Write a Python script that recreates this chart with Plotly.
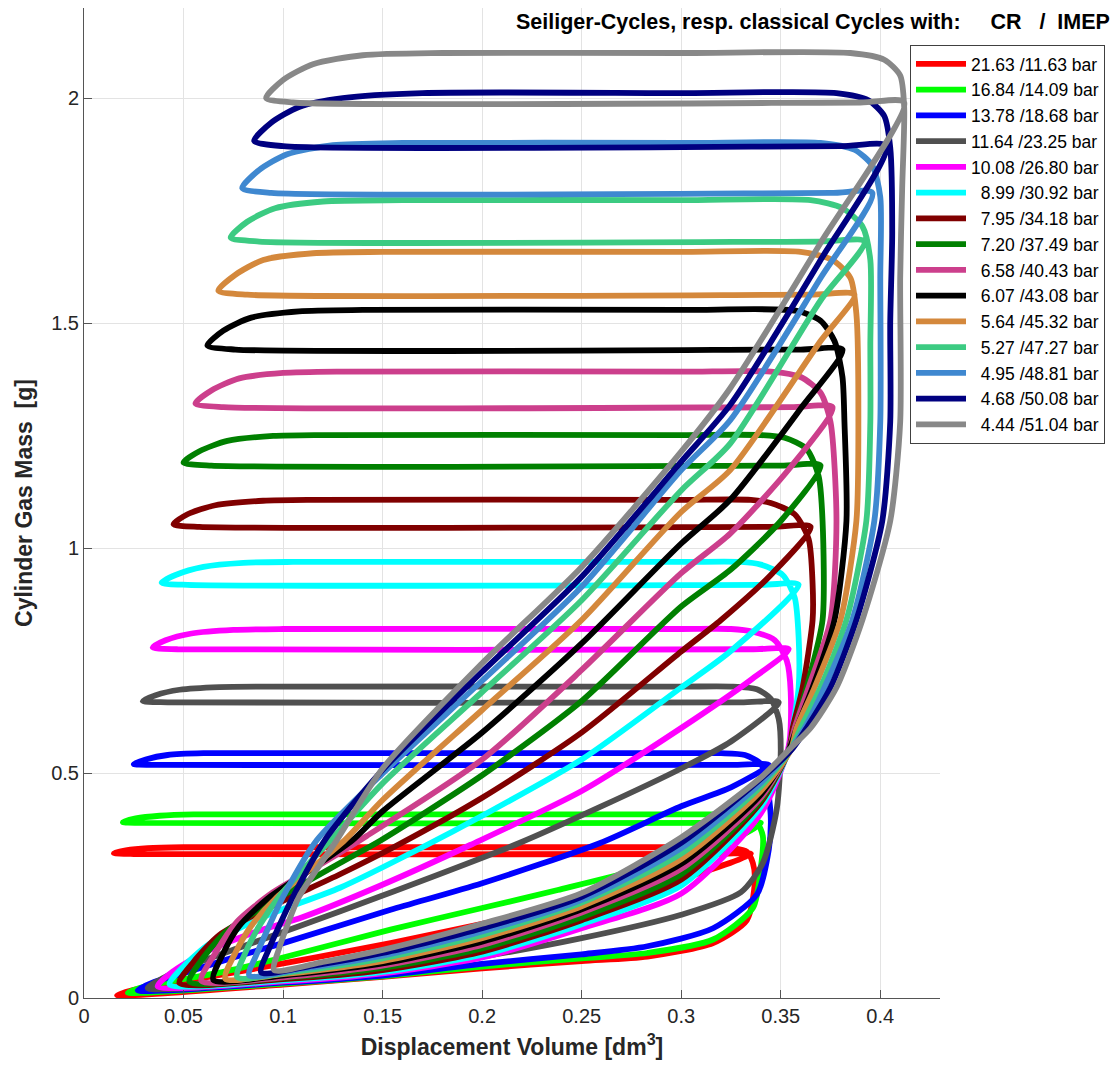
import plotly.graph_objects as go

# ---------------- data ----------------
labels = ["21.63 /11.63 bar", "16.84 /14.09 bar", "13.78 /18.68 bar", "11.64 /23.25 bar",
          "10.08 /26.80 bar", "\u00a0\u00a08.99 /30.92 bar", "\u00a0\u00a07.95 /34.18 bar",
          "\u00a0\u00a07.20 /37.49 bar", "\u00a0\u00a06.58 /40.43 bar", "\u00a0\u00a06.07 /43.08 bar",
          "\u00a0\u00a05.64 /45.32 bar", "\u00a0\u00a05.27 /47.27 bar", "\u00a0\u00a04.95 /48.81 bar",
          "\u00a0\u00a04.68 /50.08 bar", "\u00a0\u00a04.44 /51.04 bar"]
colors = ["#ff0000", "#00ff00", "#0000ff", "#505050", "#ff00ff", "#00ffff", "#800000",
          "#008000", "#cc3f8c", "#000000", "#d4883c", "#3ccb82", "#3f88d0", "#000080", "#888888"]

# each cycle: displacement volume [dm3] and cylinder gas mass [g] along the closed path
v_c01 = [0.0166, 0.025, 0.04, 0.077, 0.154, 0.2, 0.25, 0.3, 0.335, 0.315, 0.025, 0.015, 0.021, 0.032, 0.05, 0.075,
         0.3, 0.315, 0.326, 0.333, 0.336, 0.337, 0.333, 0.316, 0.283, 0.25, 0.2, 0.15, 0.1, 0.0166]
m_c01 = [0.006, 0.018, 0.03, 0.058, 0.122, 0.165, 0.21, 0.265, 0.32, 0.32, 0.32, 0.322, 0.328, 0.333, 0.335, 0.335,
         0.335, 0.335, 0.333, 0.325, 0.3, 0.26, 0.173, 0.122, 0.092, 0.082, 0.066, 0.047, 0.03, 0.006]

v_c02 = [0.022, 0.03, 0.045, 0.07, 0.1, 0.154, 0.2, 0.238, 0.3, 0.325, 0.34, 0.32, 0.03, 0.0195, 0.026, 0.038, 0.055,
         0.08, 0.3, 0.318, 0.33, 0.338, 0.341, 0.34, 0.336, 0.316, 0.283, 0.25, 0.2, 0.15, 0.1, 0.022]
m_c02 = [0.012, 0.025, 0.038, 0.058, 0.09, 0.152, 0.2, 0.24, 0.31, 0.35, 0.389, 0.389, 0.389, 0.391, 0.399, 0.405,
         0.408, 0.408, 0.408, 0.408, 0.404, 0.39, 0.36, 0.29, 0.2, 0.13, 0.1, 0.088, 0.07, 0.048, 0.032, 0.012]

v_c03 = [0.027, 0.035, 0.05, 0.075, 0.1, 0.154, 0.2, 0.259, 0.3, 0.325, 0.344, 0.325, 0.037, 0.025, 0.031, 0.042,
         0.06, 0.085, 0.3, 0.32, 0.332, 0.34, 0.343, 0.345, 0.344, 0.338, 0.316, 0.283, 0.25, 0.2, 0.15, 0.1, 0.027]
m_c03 = [0.017, 0.035, 0.055, 0.09, 0.122, 0.196, 0.255, 0.344, 0.426, 0.468, 0.518, 0.518, 0.518, 0.52, 0.53, 0.54,
         0.544, 0.544, 0.544, 0.544, 0.54, 0.52, 0.48, 0.4, 0.33, 0.23, 0.155, 0.115, 0.097, 0.076, 0.05, 0.034, 0.017]

v_c04 = [0.032, 0.04, 0.055, 0.08, 0.107, 0.149, 0.219, 0.259, 0.3, 0.325, 0.349, 0.33, 0.042, 0.0295, 0.036, 0.048,
         0.068, 0.095, 0.3, 0.325, 0.338, 0.345, 0.349, 0.35, 0.348, 0.341, 0.33, 0.3, 0.25, 0.2, 0.15, 0.1, 0.032]
m_c04 = [0.022, 0.045, 0.075, 0.115, 0.158, 0.226, 0.345, 0.424, 0.51, 0.57, 0.657, 0.657, 0.657, 0.66, 0.673, 0.685,
         0.691, 0.692, 0.692, 0.692, 0.686, 0.665, 0.62, 0.55, 0.42, 0.3, 0.235, 0.185, 0.133, 0.092, 0.06, 0.037, 0.022]

v_c05 = [0.037, 0.045, 0.06, 0.085, 0.11, 0.149, 0.194, 0.25, 0.3, 0.335, 0.354, 0.335, 0.047, 0.0345, 0.041, 0.054,
         0.075, 0.1, 0.3, 0.325, 0.336, 0.347, 0.353, 0.355, 0.354, 0.34, 0.3, 0.25, 0.2, 0.15, 0.1, 0.037]
m_c05 = [0.026, 0.06, 0.1, 0.145, 0.18, 0.25, 0.34, 0.46, 0.6, 0.707, 0.775, 0.775, 0.775, 0.779, 0.795, 0.81,
         0.818, 0.82, 0.82, 0.82, 0.814, 0.795, 0.75, 0.68, 0.56, 0.41, 0.232, 0.155, 0.09, 0.055, 0.037, 0.026]

v_c06 = [0.043, 0.05, 0.063, 0.09, 0.1286, 0.17, 0.2, 0.25, 0.3, 0.3246, 0.359, 0.34, 0.052, 0.039, 0.046, 0.06,
         0.08, 0.105, 0.3, 0.33, 0.34, 0.351, 0.357, 0.359, 0.359, 0.356, 0.354, 0.34, 0.3, 0.25, 0.2, 0.15, 0.1, 0.043]
m_c06 = [0.03, 0.07, 0.12, 0.18, 0.245, 0.335, 0.405, 0.53, 0.69, 0.77, 0.918, 0.918, 0.918, 0.923, 0.94, 0.958,
         0.967, 0.969, 0.969, 0.969, 0.963, 0.94, 0.89, 0.8, 0.69, 0.6, 0.55, 0.425, 0.25, 0.164, 0.096, 0.058, 0.039,
         0.03]

v_c07 = [0.048, 0.055, 0.068, 0.09, 0.1286, 0.1555, 0.2, 0.25, 0.3, 0.32, 0.345, 0.365, 0.345, 0.058, 0.045, 0.052,
         0.066, 0.09, 0.115, 0.3, 0.335, 0.345, 0.357, 0.364, 0.366, 0.366, 0.361, 0.356, 0.354, 0.34, 0.3, 0.25,
         0.2, 0.15, 0.1, 0.048]
m_c07 = [0.033, 0.08, 0.14, 0.195, 0.275, 0.335, 0.445, 0.59, 0.77, 0.84, 0.94, 1.047, 1.047, 1.047, 1.053, 1.075,
         1.095, 1.105, 1.107, 1.107, 1.107, 1.1, 1.075, 1.02, 0.92, 0.84, 0.69, 0.6, 0.55, 0.435, 0.263, 0.173,
         0.103, 0.062, 0.042, 0.033]

v_c08 = [0.053, 0.06, 0.072, 0.095, 0.1286, 0.149, 0.2, 0.25, 0.3, 0.3246, 0.35, 0.37, 0.35, 0.064, 0.05, 0.058,
         0.072, 0.095, 0.12, 0.3, 0.34, 0.352, 0.363, 0.369, 0.371, 0.371, 0.363, 0.357, 0.354, 0.34, 0.3, 0.25,
         0.2, 0.15, 0.1, 0.053]
m_c08 = [0.036, 0.09, 0.15, 0.215, 0.3, 0.35, 0.495, 0.66, 0.87, 0.951, 1.06, 1.183, 1.183, 1.183, 1.19, 1.215,
         1.238, 1.249, 1.251, 1.251, 1.251, 1.245, 1.22, 1.16, 1.06, 0.84, 0.69, 0.6, 0.55, 0.44, 0.275, 0.18,
         0.11, 0.067, 0.045, 0.036]

v_c09 = [0.059, 0.066, 0.077, 0.095, 0.12, 0.142, 0.2, 0.25, 0.3, 0.3246, 0.355, 0.376, 0.355, 0.07, 0.056, 0.064,
         0.078, 0.1, 0.13, 0.3, 0.345, 0.36, 0.37, 0.375, 0.378, 0.375, 0.364, 0.357, 0.354, 0.34, 0.3, 0.25, 0.2,
         0.15, 0.1, 0.059]
m_c09 = [0.038, 0.1, 0.17, 0.235, 0.3, 0.36, 0.53, 0.729, 0.944, 1.032, 1.18, 1.313, 1.313, 1.313, 1.321, 1.35,
         1.377, 1.389, 1.392, 1.392, 1.392, 1.38, 1.345, 1.28, 1.06, 0.84, 0.69, 0.6, 0.55, 0.445, 0.287, 0.19,
         0.118, 0.072, 0.046, 0.038]

v_c10 = [0.065, 0.07, 0.078, 0.092, 0.112, 0.135, 0.15, 0.2, 0.25, 0.3, 0.3246, 0.36, 0.381, 0.36, 0.076, 0.062,
         0.07, 0.084, 0.108, 0.14, 0.3, 0.358, 0.37, 0.377, 0.381, 0.382, 0.383, 0.377, 0.366, 0.358, 0.354, 0.34,
         0.3, 0.25, 0.2, 0.15, 0.1, 0.065]
m_c10 = [0.04, 0.1, 0.16, 0.22, 0.28, 0.351, 0.415, 0.59, 0.788, 1.01, 1.107, 1.31, 1.441, 1.441, 1.441, 1.45,
         1.483, 1.512, 1.526, 1.529, 1.529, 1.527, 1.505, 1.46, 1.38, 1.28, 1.06, 0.84, 0.69, 0.6, 0.55, 0.452,
         0.298, 0.197, 0.125, 0.077, 0.05, 0.04]

v_c11 = [0.071, 0.076, 0.084, 0.096, 0.112, 0.131, 0.15, 0.2, 0.25, 0.3, 0.3246, 0.37, 0.387, 0.365, 0.082, 0.0675,
         0.076, 0.09, 0.115, 0.15, 0.3, 0.36, 0.376, 0.385, 0.388, 0.389, 0.388, 0.38, 0.367, 0.358, 0.355, 0.34,
         0.3, 0.25, 0.2, 0.15, 0.1, 0.071]
m_c11 = [0.043, 0.1, 0.16, 0.22, 0.28, 0.351, 0.44, 0.64, 0.84, 1.08, 1.173, 1.46, 1.563, 1.563, 1.563, 1.572,
         1.607, 1.64, 1.655, 1.658, 1.658, 1.658, 1.64, 1.6, 1.52, 1.28, 1.06, 0.84, 0.69, 0.6, 0.551, 0.46, 0.309,
         0.204, 0.133, 0.082, 0.053, 0.043]

v_c12 = [0.077, 0.081, 0.088, 0.098, 0.11, 0.124, 0.15, 0.2, 0.25, 0.3, 0.3246, 0.37, 0.392, 0.37, 0.088, 0.0737,
         0.082, 0.096, 0.12, 0.16, 0.3, 0.365, 0.381, 0.391, 0.395, 0.395, 0.395, 0.393, 0.383, 0.37, 0.36, 0.355,
         0.34, 0.3, 0.25, 0.2, 0.15, 0.105, 0.077]
m_c12 = [0.046, 0.1, 0.16, 0.225, 0.285, 0.351, 0.477, 0.68, 0.884, 1.128, 1.232, 1.55, 1.681, 1.681, 1.681, 1.69,
         1.725, 1.755, 1.77, 1.773, 1.773, 1.773, 1.755, 1.715, 1.64, 1.45, 1.28, 1.06, 0.84, 0.69, 0.6, 0.552,
         0.47, 0.321, 0.212, 0.14, 0.088, 0.058, 0.046]

v_c13 = [0.083, 0.087, 0.093, 0.1, 0.117, 0.15, 0.2, 0.25, 0.3, 0.3246, 0.37, 0.396, 0.375, 0.094, 0.0795, 0.088,
         0.102, 0.125, 0.16, 0.3, 0.37, 0.387, 0.396, 0.4, 0.4, 0.4, 0.397, 0.386, 0.372, 0.362, 0.355, 0.34, 0.3,
         0.25, 0.2, 0.15, 0.11, 0.083]
m_c13 = [0.05, 0.1, 0.16, 0.225, 0.351, 0.499, 0.705, 0.914, 1.173, 1.284, 1.6, 1.789, 1.789, 1.789, 1.8, 1.84,
         1.875, 1.895, 1.9, 1.9, 1.9, 1.885, 1.85, 1.78, 1.6, 1.28, 1.06, 0.84, 0.69, 0.6, 0.553, 0.478, 0.333,
         0.218, 0.148, 0.094, 0.065, 0.05]

v_c14 = [0.089, 0.093, 0.098, 0.105, 0.121, 0.15, 0.2, 0.25, 0.3, 0.3246, 0.37, 0.403, 0.38, 0.1, 0.0855, 0.094,
         0.108, 0.13, 0.17, 0.3, 0.378, 0.394, 0.402, 0.405, 0.406, 0.405, 0.405, 0.401, 0.388, 0.375, 0.363, 0.356,
         0.34, 0.3, 0.25, 0.2, 0.15, 0.115, 0.089]
m_c14 = [0.057, 0.11, 0.16, 0.225, 0.351, 0.507, 0.725, 0.936, 1.192, 1.318, 1.64, 1.893, 1.893, 1.893, 1.905,
         1.945, 1.98, 2.0, 2.011, 2.011, 2.011, 1.995, 1.96, 1.89, 1.7, 1.5, 1.28, 1.06, 0.84, 0.69, 0.6, 0.555,
         0.487, 0.345, 0.225, 0.155, 0.1, 0.072, 0.057]

v_c15 = [0.0955, 0.098, 0.102, 0.108, 0.127, 0.15, 0.2, 0.25, 0.3, 0.3246, 0.37, 0.412, 0.39, 0.105, 0.0915, 0.1,
         0.115, 0.14, 0.18, 0.3, 0.385, 0.402, 0.41, 0.412, 0.411, 0.41, 0.41, 0.405, 0.391, 0.378, 0.365, 0.356,
         0.34, 0.3, 0.25, 0.2, 0.15, 0.12, 0.0955]
m_c15 = [0.062, 0.11, 0.16, 0.225, 0.351, 0.51, 0.744, 0.958, 1.214, 1.355, 1.678, 1.99, 1.99, 1.99, 2.0, 2.04,
         2.075, 2.095, 2.1, 2.1, 2.1, 2.085, 2.05, 1.98, 1.8, 1.6, 1.28, 1.06, 0.84, 0.69, 0.6, 0.56, 0.49, 0.357,
         0.233, 0.165, 0.107, 0.08, 0.062]

x_ticks = [0, 0.05, 0.1, 0.15, 0.2, 0.25, 0.3, 0.35, 0.4]
x_tick_text = ["0", "0.05", "0.1", "0.15", "0.2", "0.25", "0.3", "0.35", "0.4"]
y_ticks = [0, 0.5, 1, 1.5, 2]
y_tick_text = ["0", "0.5", "1", "1.5", "2"]

cycles_v = [v_c01, v_c02, v_c03, v_c04, v_c05, v_c06, v_c07, v_c08, v_c09, v_c10, v_c11, v_c12, v_c13, v_c14, v_c15]
cycles_m = [m_c01, m_c02, m_c03, m_c04, m_c05, m_c06, m_c07, m_c08, m_c09, m_c10, m_c11, m_c12, m_c13, m_c14, m_c15]

# ---------------- figure ----------------
# The page adds an 8 px body margin, so the figure is 8 px smaller than the window.
FONT = "Liberation Sans, Arial, Helvetica, sans-serif"
NB = "\u00a0"
W, H = 1112, 1070
L, R, T, B = 76, 180, 0, 80
PW, PH = W - L - R, H - T - B


def px_x(page_x):
    return (page_x - 8 - L) / PW


def px_y(page_y):
    return (H - B - (page_y - 8)) / PH


fig = go.Figure()
for vv, mm, lab, col in zip(cycles_v, cycles_m, labels, colors):
    fig.add_trace(go.Scatter(x=vv, y=mm, mode="lines", name=lab,
                             line=dict(color=col, width=5.8, shape="spline", smoothing=0.7)))

title_txt = ("<b>Seiliger-Cycles, resp. classical Cycles with:" + NB * 5 + "CR" + NB * 3 + "/"
             + NB * 2 + "IMEP</b>")
fig.update_layout(
    width=W, height=H,
    margin=dict(l=L, r=R, t=T, b=B, autoexpand=False),
    paper_bgcolor="white", plot_bgcolor="white",
    font=dict(family=FONT, size=20, color="#262626"),
    showlegend=True,
    legend=dict(x=px_x(910), y=px_y(45), xanchor="left", yanchor="top",
                bgcolor="white", bordercolor="#404040", borderwidth=1,
                font=dict(family=FONT, size=17.5, color="black"),
                itemwidth=50, tracegroupgap=0),
    annotations=[dict(text=title_txt,
                      xref="paper", yref="paper", x=px_x(1112), y=px_y(22),
                      xanchor="right", yanchor="middle", showarrow=False,
                      font=dict(family=FONT, size=21.5, color="black"))],
)
fig.update_xaxes(range=[0, 0.43], tickvals=x_ticks, ticktext=x_tick_text, automargin=False,
                 showgrid=True, gridcolor="#e3e3e3", gridwidth=1, zeroline=False,
                 showline=True, linecolor="#555555", linewidth=1, mirror=False,
                 ticks="inside", ticklen=8, tickcolor="#555555",
                 tickfont=dict(family=FONT, size=20, color="#262626"),
                 title=dict(text="Displacement Volume [dm<sup>3</sup>]", standoff=12,
                            font=dict(family=FONT, size=23, color="#262626", weight="bold")))
fig.update_yaxes(range=[0, 2.2], tickvals=y_ticks, ticktext=y_tick_text, automargin=False,
                 showgrid=True, gridcolor="#e3e3e3", gridwidth=1, zeroline=False,
                 showline=True, linecolor="#555555", linewidth=1, mirror=False,
                 ticks="inside", ticklen=8, tickcolor="#555555",
                 tickfont=dict(family=FONT, size=20, color="#262626"),
                 title=dict(text="Cylinder Gas Mass" + NB * 2 + "[g]", standoff=12,
                            font=dict(family=FONT, size=23, color="#262626", weight="bold")))

fig.write_html("out.html")
